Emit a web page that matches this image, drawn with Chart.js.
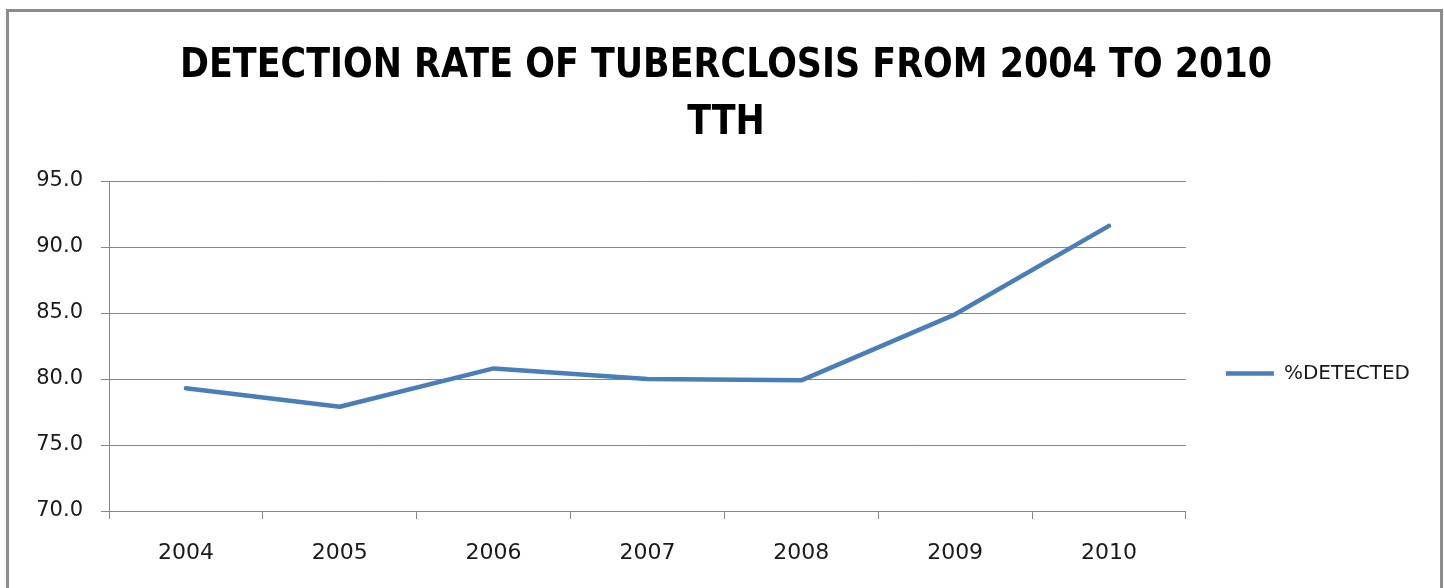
<!DOCTYPE html>
<html>
<head>
<meta charset="utf-8">
<script src="https://cdn.jsdelivr.net/npm/chart.js@4/dist/chart.umd.min.js"></script>
<style>
    html, body { margin: 0; padding: 0; background: #fff; overflow: hidden; }
    .wrap { position: relative; width: 1444px; height: 588px; }
    .frame {
        position: absolute; left: 6px; top: 9px; width: 1431px; height: 620px;
        border: 3px solid #8c8c8c; pointer-events: none;
    }
</style>
</head>
<body>
<div class="wrap">
    <canvas id="tbChart" width="1444" height="588"></canvas>
    <div class="frame"></div>
</div>
<script>
// datos
const years = ['2004', '2005', '2006', '2007', '2008', '2009', '2010'];
const detected = [79.3, 77.9, 80.8, 80.0, 79.9, 84.9, 91.6];
const seriesName = '%DETECTED';
const titleLines = ['DETECTION RATE OF TUBERCLOSIS FROM 2004 TO 2010', 'TTH'];
const yMin = 70, yMax = 95, yStep = 5;

const gridColor = '#868686';
const lineColor = '#4a7ebb';

// titulo en dos lineas, comprimido a lo ancho como en el original
const titlePlugin = {
    id: 'twoLineTitle',
    afterDraw(chart) {
        const ctx = chart.ctx;
        ctx.save();
        ctx.font = 'bold 41px "DejaVu Sans"';
        ctx.fillStyle = '#000';
        ctx.textAlign = 'center';
        ctx.textBaseline = 'alphabetic';
        const sx = 1092 / ctx.measureText(titleLines[0]).width;
        ctx.translate(726, 0);
        ctx.scale(sx, 1);
        ctx.fillText(titleLines[0], 0, 77);
        ctx.fillText(titleLines[1], 0, 134);
        ctx.restore();
    }
};

new Chart(document.getElementById('tbChart'), {
    type: 'line',
    data: {
        labels: years,
        datasets: [{
            label: seriesName,
            data: detected,
            borderColor: lineColor,
            backgroundColor: lineColor,
            borderWidth: 4.5,
            borderCapStyle: 'round',
            borderJoinStyle: 'round',
            pointRadius: 0,
            tension: 0,
            fill: false
        }]
    },
    options: {
        responsive: false,
        animation: false,
        layout: { padding: { top: 181, bottom: 22, left: 0, right: 24 } },
        plugins: {
            title: { display: false },
            tooltip: { enabled: false },
            legend: {
                position: 'right',
                labels: {
                    usePointStyle: true,
                    pointStyle: 'line',
                    pointStyleWidth: 48,
                    padding: 40,
                    color: '#1a1a1a',
                    font: { family: 'DejaVu Sans', size: 20 }
                }
            }
        },
        scales: {
            x: {
                offset: true,
                afterFit: (scale) => { scale.height = 55; },
                grid: {
                    display: true,
                    drawOnChartArea: false,
                    drawTicks: true,
                    tickLength: 8,
                    offset: true,
                    color: gridColor
                },
                border: { display: true, color: gridColor, width: 1 },
                ticks: {
                    padding: 21,
                    color: '#1a1a1a',
                    maxRotation: 0,
                    font: { family: 'DejaVu Sans', size: 22 }
                }
            },
            y: {
                min: yMin,
                max: yMax,
                afterFit: (scale) => { scale.width = 109; },
                grid: {
                    color: gridColor,
                    lineWidth: 1,
                    drawTicks: true,
                    tickLength: 8
                },
                border: { display: true, color: gridColor, width: 1 },
                ticks: {
                    stepSize: yStep,
                    padding: 18,
                    color: '#1a1a1a',
                    font: { family: 'DejaVu Sans', size: 21 },
                    callback: (v) => Number(v).toFixed(1)
                }
            }
        }
    },
    plugins: [titlePlugin]
});
</script>
</body>
</html>
